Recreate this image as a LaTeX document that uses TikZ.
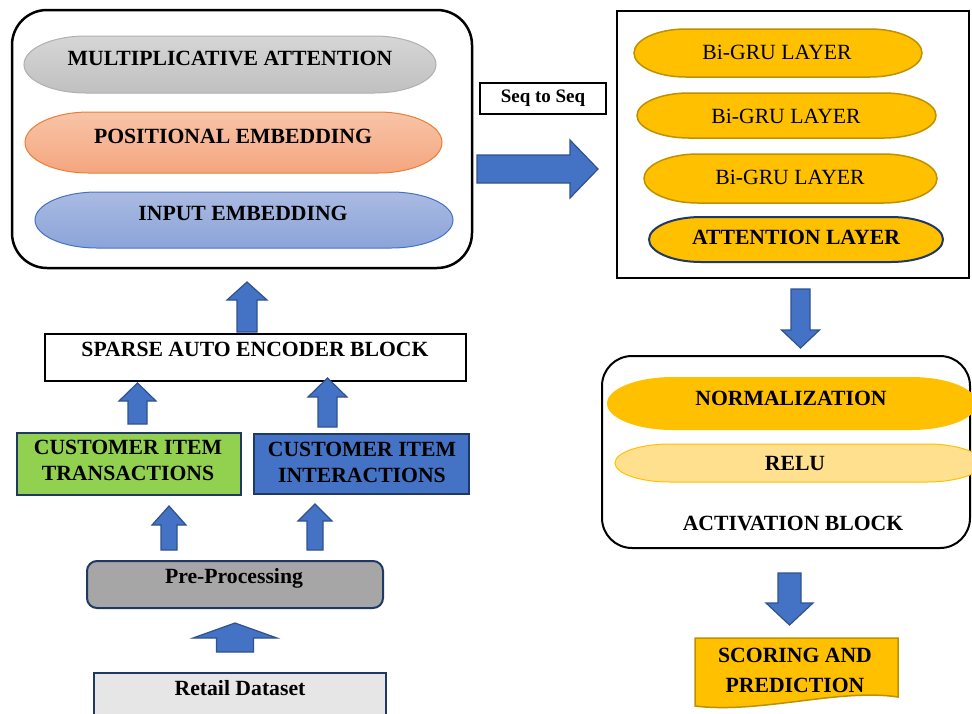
\documentclass[tikz,border=0pt]{standalone}
\usepackage{fontspec}
\setmainfont{Liberation Serif}
\definecolor{ablue}{HTML}{4472C4}
\definecolor{aedge}{HTML}{2F528F}
\definecolor{gold}{HTML}{FFC000}
\definecolor{golddark}{HTML}{BF9000}
\definecolor{navy}{HTML}{203864}
\definecolor{lgreen}{HTML}{92D050}
\definecolor{pgray}{HTML}{A6A6A6}
\definecolor{rgray}{HTML}{E7E6E6}
\definecolor{relufill}{HTML}{FFE08F}
\definecolor{gtop}{HTML}{D6D6D6}
\definecolor{gbot}{HTML}{C0C0C0}
\definecolor{gedge}{HTML}{B0B0B0}
\definecolor{otop}{HTML}{F8C4A7}
\definecolor{obot}{HTML}{F4A67F}
\definecolor{oedge}{HTML}{ED7D31}
\definecolor{btop}{HTML}{AABAE2}
\definecolor{bbot}{HTML}{8BA4D9}
\newcommand\myvarrow[6]{% cx, tip y, head base y, tail y, shaft half, head half
  \draw[barrow] (#1-#5,#4) -- (#1-#5,#3) -- (#1-#6,#3) -- (#1,#2) -- (#1+#6,#3) -- (#1+#5,#3) -- (#1+#5,#4) -- cycle;}
\newcommand\mypill[6]{% style, x1, y1, x2, y2, end radius
  \path[#1] (#2+#6,#3) -- (#4-#6,#3)
    arc[start angle=-90, end angle=90, x radius=#6, y radius={(#5-#3)/2}]
    -- (#2+#6,#5)
    arc[start angle=90, end angle=270, x radius=#6, y radius={(#5-#3)/2}] -- cycle;}
\begin{document}
\begin{tikzpicture}[x=1pt,y=-1pt,
  tb/.style={font=\fontsize{21.7}{26}\selectfont\bfseries},
  tr/.style={font=\fontsize{21.7}{26}\selectfont},
  barrow/.style={fill=ablue, draw=aedge, line width=1.2pt, line join=miter},
  goldpill/.style={fill=gold, draw=golddark, line width=1.5pt},
  boxnode/.style={rectangle, inner sep=0pt}]
\useasboundingbox (0,0) rectangle (972,713);
\clip (0,0) rectangle (972,713);
\fill[white] (0,0) rectangle (972,713);

% ---------- top-left block ----------
\node[boxnode, draw=black, line width=2.5pt, rounded corners=35pt, minimum width=460pt, minimum height=258pt] (enc) at (242,139) {};
\mypill{top color=gtop, bottom color=gbot, draw=gedge, line width=1pt}{24}{36}{436}{93}{62}
\node[tb] (mult) at (230,58) {MULTIPLICATIVE ATTENTION};
\mypill{top color=otop, bottom color=obot, draw=oedge, line width=1pt}{25}{112}{442}{173}{64}
\node[tb] (pos) at (233,136) {POSITIONAL EMBEDDING};
\mypill{top color=btop, bottom color=bbot, draw=ablue, line width=1pt}{35}{192}{453}{248}{62}
\node[tb] (inp) at (243,213) {INPUT EMBEDDING};

% ---------- seq to seq ----------
\node[boxnode, draw=black, line width=2pt, minimum width=126pt, minimum height=31pt, font=\fontsize{19}{22}\selectfont\bfseries] (seq) at (543,98.5) {Seq to Seq};
\draw[barrow] (477,155) -- (570,155) -- (570,140) -- (598,169) -- (570,198) -- (570,183) -- (477,183) -- cycle;

% ---------- GRU block ----------
\node[boxnode, draw=black, line width=2pt, minimum width=352pt, minimum height=267pt] (grubox) at (793,144.5) {};
\mypill{goldpill}{634}{29}{922}{77}{52}
\node[tr] (gru1) at (777,52) {Bi-GRU LAYER};
\mypill{goldpill}{637}{93}{936}{138}{52}
\node[tr] (gru2) at (786,116) {Bi-GRU LAYER};
\mypill{goldpill}{644}{154}{937}{203}{54}
\node[tr] (gru3) at (790,177) {Bi-GRU LAYER};
\mypill{goldpill, draw=navy, line width=2pt}{649}{217}{943}{262}{52}
\node[tb] (attn) at (796,237.5) {ATTENTION LAYER};

\myvarrow{800.5}{348}{330}{289}{9.5}{19}

% ---------- activation block ----------
\node[boxnode, draw=black, line width=2pt, rounded corners=30pt, minimum width=368pt, minimum height=192pt] (act) at (786,452) {};
\mypill{fill=gold}{607}{377}{977}{430}{66}
\node[tb] (norm) at (791,398) {NORMALIZATION};
\mypill{fill=relufill, draw=gold, line width=1pt}{615}{444}{982}{482}{55}
\node[tb] (relu) at (795,463) {RELU};
\node[tb] (actlabel) at (793,523) {ACTIVATION BLOCK};

\myvarrow{789.5}{625}{603}{573}{11.5}{23.5}

\path[fill=gold, draw=golddark, line width=1.5pt] (695,638) -- (898,638) -- (898,697) .. controls (840,688) and (760,714) .. (695,706) -- cycle;
\node[font=\fontsize{21.7}{30}\selectfont\bfseries, align=center] (score) at (795,670) {SCORING AND\\PREDICTION};

% ---------- left bottom ----------
\myvarrow{247}{282}{300}{332}{10}{20}
\node[boxnode, draw=black, line width=2pt, minimum width=421pt, minimum height=47pt] (sae) at (255.5,357.5) {};
\node[tb] (saetext) at (255,349) {SPARSE AUTO ENCODER BLOCK};

\myvarrow{137.5}{383}{401}{424}{9.5}{18.5}
\myvarrow{327.5}{378}{397}{427}{9.5}{19.5}

\node[boxnode, fill=lgreen, draw=navy, line width=2pt, minimum width=224pt, minimum height=62pt] (trans) at (129,464) {};
\node[tb, align=center] (transtext) at (128,460) {CUSTOMER ITEM\\TRANSACTIONS};
\node[boxnode, fill=ablue, draw=navy, line width=2pt, minimum width=215pt, minimum height=60pt] (inter) at (361.5,464) {};
\node[tb, align=center] (intertext) at (362,462.5) {CUSTOMER ITEM\\INTERACTIONS};

\myvarrow{169}{506}{525}{550}{8}{17}
\myvarrow{315}{504}{521}{550}{8}{17}

\node[boxnode, fill=pgray, draw=navy, line width=2pt, rounded corners=10pt, minimum width=296pt, minimum height=47pt] (pre) at (235,584.5) {};
\node[tb] (pretext) at (234,578) {Pre-Processing};

\myvarrow{235}{623}{638}{652}{18.5}{42}

\node[boxnode, fill=rgray, draw=navy, line width=1.5pt, minimum width=292pt, minimum height=47pt] (retail) at (240,696.5) {};
\node[tb] (retailtext) at (240,688) {Retail Dataset};
\end{tikzpicture}
\end{document}
